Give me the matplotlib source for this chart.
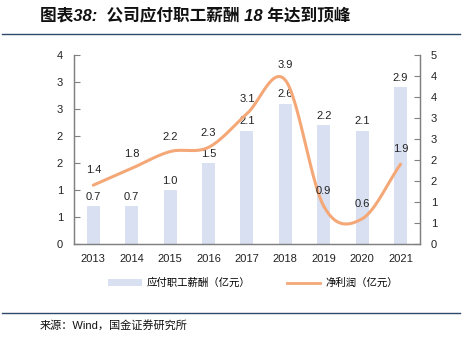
import matplotlib.pyplot as plt
import numpy as np
from matplotlib.patches import Patch
from matplotlib.lines import Line2D

plt.rcParams['font.family'] = ['Liberation Sans', 'Noto Sans CJK SC', 'DejaVu Sans']

years = ['2013', '2014', '2015', '2016', '2017', '2018', '2019', '2020', '2021']
salary = [0.7, 0.7, 1.0, 1.5, 2.1, 2.6, 2.2, 2.1, 2.9]      # 应付职工薪酬
profit = [1.4, 1.8, 2.2, 2.3, 3.1, 3.9, 0.9, 0.6, 1.9]      # 净利润
left_ticks = [0, 0.5, 1, 1.5, 2, 2.5, 3, 3.5]
left_labels = ['0', '1', '1', '2', '2', '3', '3', '4']
right_ticks = [0, 0.5, 1, 1.5, 2, 2.5, 3, 3.5, 4, 4.5]
right_labels = ['0', '1', '1', '2', '2', '3', '3', '4', '4', '5']

bar_color = '#D9E0F1'
line_color = '#F4A878'
axis_color = '#808080'


def smooth(x, y, n=30):
    # catmull-rom curve through the points
    x = np.asarray(x, float)
    y = np.asarray(y, float)
    px = np.concatenate([[2 * x[0] - x[1]], x, [2 * x[-1] - x[-2]]])
    py = np.concatenate([[2 * y[0] - y[1]], y, [2 * y[-1] - y[-2]]])
    xs, ys = [], []
    t = np.linspace(0, 1, n)
    for i in range(1, len(px) - 2):
        for p, out in ((px, xs), (py, ys)):
            p0, p1, p2, p3 = p[i - 1], p[i], p[i + 1], p[i + 2]
            out.extend(0.5 * ((2 * p1) + (-p0 + p2) * t
                              + (2 * p0 - 5 * p1 + 4 * p2 - p3) * t ** 2
                              + (-p0 + 3 * p1 - 3 * p2 + p3) * t ** 3))
    return xs, ys


fig = plt.figure(figsize=(4.69, 3.37), dpi=100)
ax = fig.add_axes([0.158, 0.276, 0.737, 0.561])
ax2 = ax.twinx()

x = np.arange(len(years))
ax.bar(x, salary, width=0.34, color=bar_color, zorder=1)
for xi, v in zip(x, salary):
    ax.annotate(f'{v:.1f}', (xi, v), xytext=(0, 3), textcoords='offset points',
                ha='center', va='bottom', fontsize=8, color='#222222')

sx, sy = smooth(x, profit)
ax2.plot(sx, sy, color=line_color, lw=2.2, solid_capstyle='round')
for xi, v in zip(x, profit):
    ax2.annotate(f'{v:.1f}', (xi, v), xytext=(0, 7), textcoords='offset points',
                 ha='center', va='bottom', fontsize=8, color='#222222')

ax.set_xlim(-0.5, len(years) - 0.5)
ax.set_ylim(0, 3.5)
ax2.set_ylim(0, 4.5)
ax.set_xticks(x)
ax.set_xticklabels(years)
ax.set_yticks(left_ticks)
ax.set_yticklabels(left_labels)
ax2.set_yticks(right_ticks)
ax2.set_yticklabels(right_labels)

for a in (ax, ax2):
    a.spines['top'].set_visible(False)
    for s in ('left', 'right', 'bottom'):
        a.spines[s].set_color(axis_color)
        a.spines[s].set_linewidth(0.9)
    a.tick_params(axis='y', direction='in', length=4, color=axis_color,
                  labelsize=8, pad=8, labelcolor='#222222')
ax.tick_params(axis='x', length=0, labelsize=8, pad=7, labelcolor='#222222')

handles = [Patch(facecolor=bar_color, edgecolor='none'),
           Line2D([0], [0], color=line_color, lw=2)]
fig.legend(handles, ['应付职工薪酬（亿元）', '净利润（亿元）'], loc='center',
           bbox_to_anchor=(0.54, 0.16), ncol=2, frameon=False, fontsize=7.5,
           handlelength=3.2, handleheight=0.6, columnspacing=3.5, handletextpad=0.5)

fig.text(0.085, 0.955, '图表38:  公司应付职工薪酬 18 年达到顶峰', fontsize=12,
         fontweight='bold', style='italic', va='center', ha='left', color='#111111')
fig.add_artist(Line2D([0.005, 0.98], [0.9, 0.9], color='#2E4A6B', lw=1))
fig.add_artist(Line2D([0.005, 0.98], [0.072, 0.072], color='#2E4A6B', lw=1))
fig.text(0.085, 0.035, '来源：Wind，国金证券研究所', fontsize=8, va='center',
         ha='left', color='#111111')

fig.savefig('out.png', dpi=100)
